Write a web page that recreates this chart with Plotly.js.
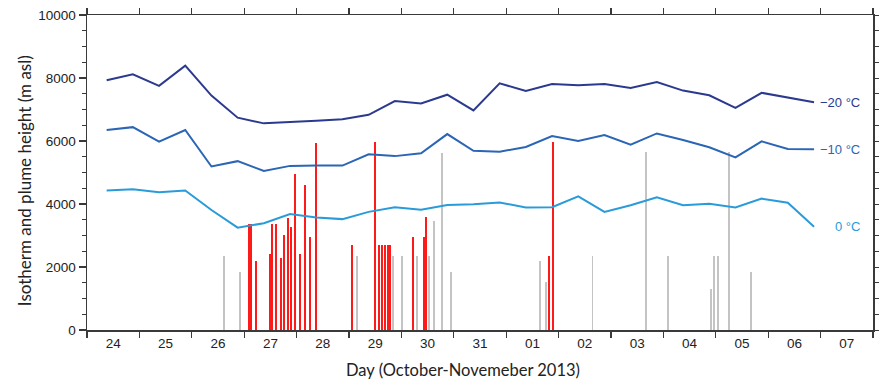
<!DOCTYPE html>
<html>
<head>
<meta charset="utf-8">
<script src="https://cdn.plot.ly/plotly-3.0.1.min.js"></script>
<style>
  html, body { margin: 0; padding: 0; background: #fff; }
  #chart { width: 879px; height: 381px; }
</style>
</head>
<body>
<div id="chart"></div>
<script>
// Day labels (each label sits in the middle of its day)
const dayLabels = ['24','25','26','27','28','29','30','31','01','02','03','04','05','06','07'];

// Isotherm sample times, in days since 24 Oct 2013 00:00
const isoTime = [0.375, 0.875, 1.375, 1.875, 2.375, 2.875, 3.375, 3.875, 4.375, 4.875,
                 5.375, 5.875, 6.375, 6.875, 7.375, 7.875, 8.375, 8.875, 9.375, 9.875,
                 10.375, 10.875, 11.375, 11.875, 12.375, 12.875, 13.375, 13.875];

// Isotherm heights (m asl)
const iso20 = [7930, 8120, 7750, 8390, 7440, 6740, 6560, 6590, 6640, 6690,
               6830, 7270, 7190, 7470, 6970, 7830, 7590, 7810, 7770, 7810,
               7680, 7870, 7600, 7450, 7050, 7530, 7390, 7230];
const iso10 = [6350, 6440, 5980, 6350, 5190, 5360, 5050, 5210, 5220, 5220,
               5580, 5520, 5610, 6220, 5690, 5660, 5810, 6160, 6000, 6190,
               5880, 6240, 6030, 5800, 5480, 5990, 5750, 5740];
const iso0  = [4430, 4470, 4370, 4430, 3810, 3250, 3390, 3680, 3570, 3520,
               3750, 3900, 3820, 3970, 3990, 4050, 3890, 3900, 4240, 3750,
               3960, 4210, 3960, 4010, 3890, 4170, 4040, 3280];
const isoNames = ['\u221220 \u00B0C', '\u221210 \u00B0C', '0 \u00B0C'];

// Plume heights: red and grey bars
const redTime = [3.095, 3.136, 3.231, 3.492, 3.525, 3.601, 3.708, 3.765, 3.830, 3.899,
                 3.975, 4.059, 4.155, 4.256, 4.376, 5.063, 5.502, 5.575, 5.637, 5.690,
                 5.738, 5.785, 6.216, 6.426, 6.475, 8.823, 8.899];
const redHeight = [3370, 3370, 2200, 2410, 3370, 3370, 2300, 3030, 3560, 3270,
                   4950, 2410, 4600, 2940, 5930, 2700, 5960, 2700, 2700, 2700,
                   2700, 2700, 2940, 2940, 3600, 2360, 5960];
const greyTime = [2.620, 2.920, 5.147, 5.840, 6.011, 6.298, 6.532, 6.628, 6.769, 6.952,
                  8.651, 8.760, 9.647, 10.662, 11.088, 11.903, 11.966, 12.036, 12.258, 12.677];
const greyHeight = [2360, 1830, 2360, 2360, 2360, 2360, 2360, 3460, 5610, 1830,
                    2200, 1530, 2360, 5640, 2360, 1290, 2360, 2360, 5640, 1850];

const xTitle = 'Day (October-Novemeber 2013)';
const yTitle = 'Isotherm and plume height (m asl)';

const colors = {iso20: '#2b3a8e', iso10: '#2b65b6', iso0: '#2a9bd9', red: '#ff1a1a', grey: '#c4c4c4'};
const axisColor = '#3a3a3a';
const font = 'Liberation Sans, Arial, sans-serif';
const titleFont = 'Lato, Liberation Sans, sans-serif';

const labelTicks = dayLabels.map((d, i) => i + 0.5);
const boundaryTicks = dayLabels.map((d, i) => i).concat([dayLabels.length]);

const traces = [
  {type: 'bar', x: greyTime, y: greyHeight, width: 0.036, marker: {color: colors.grey, line: {width: 0}}, showlegend: false},
  {type: 'bar', x: redTime, y: redHeight, width: 0.035, marker: {color: colors.red, line: {width: 0}}, showlegend: false},
  {type: 'scatter', mode: 'lines', x: isoTime, y: iso0, line: {color: colors.iso0, width: 2}, showlegend: false},
  {type: 'scatter', mode: 'lines', x: isoTime, y: iso10, line: {color: colors.iso10, width: 2}, showlegend: false},
  {type: 'scatter', mode: 'lines', x: isoTime, y: iso20, line: {color: colors.iso20, width: 2}, showlegend: false},
  // invisible trace so the mirror axes are drawn
  {type: 'scatter', mode: 'lines', x: [0, 15], y: [0, 0], xaxis: 'x2', yaxis: 'y2', line: {width: 0}, hoverinfo: 'skip', showlegend: false}
];

const lastIdx = isoTime.length - 1;
const isoSeries = [iso20, iso10, iso0];
const isoColors = [colors.iso20, colors.iso10, colors.iso0];
const annotations = isoSeries.map((s, i) => ({
  x: 14.79, y: s[lastIdx], xref: 'x', yref: 'y', xanchor: 'right', yanchor: 'middle',
  text: isoNames[i], showarrow: false, font: {family: font, size: 13, color: isoColors[i]}
}));
annotations.push({
  xref: 'paper', yref: 'paper', x: 0.478, y: -0.127, xanchor: 'center', yanchor: 'middle',
  text: xTitle, showarrow: false, font: {family: titleFont, size: 16.5, color: '#222'}
});
annotations.push({
  xref: 'paper', yref: 'paper', x: -0.080, y: 0.473, xanchor: 'center', yanchor: 'middle',
  textangle: -90, text: yTitle, showarrow: false, font: {family: titleFont, size: 17, color: '#222'}
});

const layout = {
  width: 879, height: 381,
  margin: {l: 87, r: 6, t: 15, b: 51, pad: 0},
  paper_bgcolor: '#fff', plot_bgcolor: '#fff',
  barmode: 'overlay', bargap: 0,
  font: {family: font, size: 13, color: '#222'},
  xaxis: {
    range: [0, 15], tickmode: 'array', tickvals: labelTicks, ticktext: dayLabels,
    ticks: '', showgrid: false, zeroline: false, showline: true, linecolor: axisColor, linewidth: 1.5,
    minor: {tickmode: 'array', tickvals: boundaryTicks, ticks: 'outside', ticklen: 6, tickcolor: axisColor, tickwidth: 1.2, showgrid: false},
    tickfont: {size: 13.5, color: '#222'}
  },
  xaxis2: {
    overlaying: 'x', side: 'top', anchor: 'y', range: [0, 15], tickmode: 'array', tickvals: boundaryTicks,
    showticklabels: false, ticks: 'outside', ticklen: 6, tickcolor: axisColor, tickwidth: 1.2,
    showgrid: false, zeroline: false, showline: true, linecolor: axisColor, linewidth: 1.5
  },
  yaxis: {
    range: [0, 10000], tickmode: 'linear', tick0: 0, dtick: 2000, tickformat: 'd', ticks: 'outside', ticklen: 7,
    tickcolor: axisColor, tickwidth: 1.2, showgrid: false, zeroline: false, showline: true,
    linecolor: axisColor, linewidth: 1.5, tickfont: {size: 13.5, color: '#222'},
    minor: {dtick: 500, tick0: 0, ticks: 'outside', ticklen: 4, tickcolor: axisColor, tickwidth: 1, showgrid: false}
  },
  yaxis2: {
    overlaying: 'y', side: 'right', anchor: 'x', range: [0, 10000], tickmode: 'linear', tick0: 0, dtick: 500,
    showticklabels: false, ticks: 'outside', ticklen: 4, tickcolor: axisColor, tickwidth: 1,
    showgrid: false, zeroline: false, showline: true, linecolor: axisColor, linewidth: 1.5
  },
  annotations: annotations,
  showlegend: false
};

Plotly.newPlot('chart', traces, layout, {staticPlot: true, displayModeBar: false});
</script>
</body>
</html>
